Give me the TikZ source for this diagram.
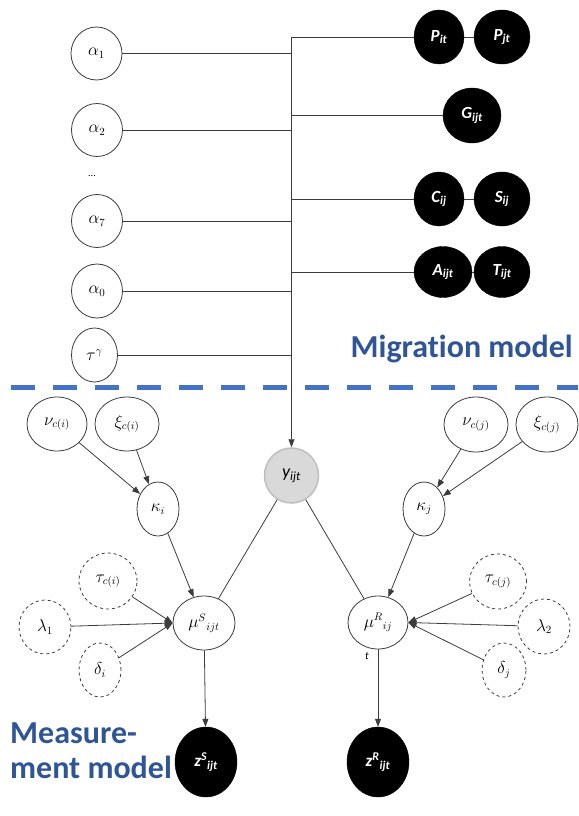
\documentclass[tikz,border=0pt]{standalone}
\usepackage{fontspec}
\setmainfont[Ligatures={NoCommon}]{Carlito}
\usetikzlibrary{shapes.geometric,arrows.meta}
\definecolor{bluetxt}{RGB}{47,85,151}
\definecolor{bluedash}{RGB}{68,114,196}
\definecolor{edgec}{RGB}{60,60,60}
\definecolor{obsgray}{RGB}{217,217,217}
\definecolor{obsedge}{RGB}{191,191,191}
\begin{document}
\begin{tikzpicture}[x=1pt,y=-1pt,
  var/.style={ellipse, draw=edgec, line width=0.8pt, fill=white, inner sep=0pt, font=\fontsize{16}{18}\selectfont},
  hyp/.style={var, dashed},
  obs/.style={ellipse, fill=black, draw=black, text=white, inner sep=0pt, font=\fontsize{17}{19}\selectfont\bfseries\itshape},
  conn/.style={draw=edgec, line width=0.8pt},
  arr/.style={conn, -{Triangle[length=8pt,width=6pt]}},
  title/.style={inner sep=0pt, text=bluetxt, font=\fontsize{32}{35}\selectfont\bfseries}
]
\useasboundingbox (0,0) rectangle (578,816);

% left column
\node[var, minimum width=51pt, minimum height=53pt] (a1) at (96.5,53.5) {$\alpha_1$};
\node[var, minimum width=51pt, minimum height=53pt] (a2) at (97,130) {$\alpha_2$};
\node[inner sep=0pt, font=\fontsize{10}{12}\selectfont] (dots) at (92,176) {...};
\node[var, minimum width=51pt, minimum height=53pt] (a7) at (97,221) {$\alpha_7$};
\node[var, minimum width=51pt, minimum height=54pt] (a0) at (97,291) {$\alpha_0$};
\node[var, minimum width=46pt, minimum height=54pt] (tg) at (94.5,355) {$\tau^{\gamma}$};

% right column covariates
\node[obs, minimum width=50pt, minimum height=54pt] (Pit) at (439,37) {P\textsubscript{it}};
\node[obs, minimum width=56pt, minimum height=54pt] (Pjt) at (502,37) {P\textsubscript{jt}};
\node[obs, minimum width=58pt, minimum height=55pt] (G) at (472,115.5) {G\textsubscript{ijt}};
\node[obs, minimum width=50pt, minimum height=54pt] (Cij) at (439,199) {C\textsubscript{ij}};
\node[obs, minimum width=56pt, minimum height=54pt] (Sij) at (502,199) {S\textsubscript{ij}};
\node[obs, minimum width=58pt, minimum height=51pt] (Aijt) at (443,272) {A\textsubscript{ijt}};
\node[obs, minimum width=56pt, minimum height=51pt] (Tijt) at (502,272) {T\textsubscript{ijt}};

% bus
\coordinate (bus) at (291.5,37);
\node[ellipse, fill=obsgray, draw=obsedge, line width=1.5pt, inner sep=0pt, minimum width=54pt, minimum height=55pt, font=\fontsize{18}{20}\selectfont\itshape] (y) at (291.5,475.5) {y\textsubscript{ijt}};

\draw[conn] (a1.east) -- (a1.east -| bus);
\draw[conn] (a2.east) -- (a2.east -| bus);
\draw[conn] (a7.east) -- (a7.east -| bus);
\draw[conn] (a0.east) -- (a0.east -| bus);
\draw[conn] (tg.east) -- (tg.east -| bus);
\draw[conn] (Pit.west) -- (bus);
\draw[conn] (G.west) -- (G.west -| bus);
\draw[conn] (Cij.west) -- (Cij.west -| bus);
\draw[conn] (Aijt.west) -- (Aijt.west -| bus);
\draw[conn] (Pit.east) -- (Pjt.west);
\draw[conn] (Cij.east) -- (Sij.west);
\draw[conn] (Aijt.east) -- (Tijt.west);
\draw[arr] (bus) -- (y.north);

% separator
\draw[bluedash, line width=5pt, dash pattern=on 24pt off 18pt] (11,387) -- (578,387);
\node[title, anchor=base east] (mig) at (573,357) {Migration model};
\node[title, anchor=base west, align=left] (meas) at (10,778) {Measure-\\ment model};

% sending side
\node[var, minimum width=60pt, minimum height=54pt] (nui) at (57,424) {$\nu_{c(i)}$};
\node[var, minimum width=64pt, minimum height=54pt] (xii) at (127,424) {$\xi_{c(i)}$};
\node[var, minimum width=42pt, minimum height=54pt] (ki) at (158,509) {$\kappa_i$};
\node[hyp, minimum width=58pt, minimum height=56pt] (taui) at (108,581) {$\tau_{c(i)}$};
\node[hyp, minimum width=52pt, minimum height=54pt] (l1) at (45,627) {$\lambda_1$};
\node[hyp, minimum width=42pt, minimum height=54pt] (di) at (100,670) {$\delta_i$};
\node[var, minimum width=62pt, minimum height=54pt] (muS) at (204,623) {$\mu^{S}{}_{ijt}$};
\node[obs, minimum width=62pt, minimum height=70pt] (zS) at (206,762) {z\textsuperscript{S}\textsubscript{ijt}};

% receiving side
\node[var, minimum width=64pt, minimum height=55pt] (nuj) at (476,424.5) {$\nu_{c(j)}$};
\node[var, minimum width=62pt, minimum height=55pt] (xij) at (547,424.5) {$\xi_{c(j)}$};
\node[var, minimum width=42pt, minimum height=54pt] (kj) at (424,509) {$\kappa_j$};
\node[hyp, minimum width=57pt, minimum height=55pt] (tauj) at (498,581.5) {$\tau_{c(j)}$};
\node[hyp, minimum width=52pt, minimum height=55pt] (l2) at (544,626.5) {$\lambda_2$};
\node[hyp, minimum width=44pt, minimum height=54pt] (dj) at (504,670) {$\delta_j$};
\node[var, minimum width=60pt, minimum height=53pt] (muR) at (378,622.5) {$\mu^{R}{}_{ij}$};
\node[inner sep=0pt, font=\fontsize{11}{12}\selectfont\itshape] (tlab) at (367,656) {t};
\node[obs, minimum width=62pt, minimum height=70pt] (zR) at (378,762) {z\textsuperscript{R}\textsubscript{ijt}};

% edges sending
\draw[arr] (nui) -- (ki);
\draw[arr] (xii) -- (ki);
\draw[arr] (ki) -- (muS);
\draw[arr] (taui) -- (muS.west);
\draw[arr] (l1) -- (muS.west);
\draw[arr] (di) -- (muS.west);
\draw[conn] (y) -- (muS);
\draw[arr] (muS) -- (zS);

% edges receiving
\draw[arr] (nuj) -- (kj);
\draw[arr] (xij) -- (kj);
\draw[arr] (kj) -- (muR);
\draw[arr] (tauj) -- (muR.east);
\draw[arr] (l2) -- (muR.east);
\draw[arr] (dj) -- (muR.east);
\draw[conn] (y) -- (muR);
\draw[arr] (muR) -- (zR);
\end{tikzpicture}
\end{document}
